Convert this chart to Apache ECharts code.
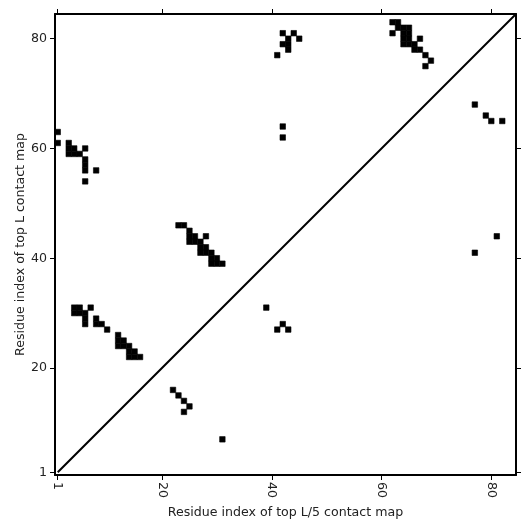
<!DOCTYPE html>
<html><head><meta charset="utf-8">
<script src="https://cdn.jsdelivr.net/npm/echarts@6/dist/echarts.min.js"></script>
<style>html,body{margin:0;padding:0;background:#fff}#c{width:531px;height:531px}</style>
</head><body><div id="c"></div>
<script>
// Tick labels / axis range
const tickValues = [1, 20, 40, 60, 80];
const axisMin = 0.5;
const axisMax = 84.5;
const xAxisTitle = 'Residue index of top L/5 contact map';
const yAxisTitle = 'Residue index of top L contact map';

// Contact cells (residue i, residue j)
const cellX = [
  1, 1, 3, 3, 4, 6, 3, 4, 5, 6, 6, 6, 8, 6,
  4, 5, 7, 4, 5, 6, 6, 6, 8, 8, 9, 10, 12, 12, 13, 12, 13, 14, 14, 15, 14, 15, 16,
  23, 24, 25, 25, 26, 28, 25, 26, 27, 27, 28, 27, 28, 29, 29, 30, 29, 30, 31,
  22, 23, 24, 25, 24, 31,
  42, 44, 43, 45, 42, 43, 43, 41, 42, 42,
  39, 42, 41, 43,
  62, 63, 63, 64, 65, 62, 64, 65, 64, 65, 67, 64, 65, 66, 66, 67, 68, 69, 68,
  77, 79, 80, 82, 81, 77
];
const cellY = [
  63, 61, 61, 60, 60, 60, 59, 59, 59, 58, 57, 56, 56, 54,
  31, 31, 31, 30, 30, 30, 29, 28, 29, 28, 28, 27, 26, 25, 25, 24, 24, 24, 23, 23, 22, 22, 22,
  46, 46, 45, 44, 44, 44, 43, 43, 43, 42, 42, 41, 41, 41, 40, 40, 39, 39, 39,
  16, 15, 14, 13, 12, 7,
  81, 81, 80, 80, 79, 79, 78, 77, 64, 62,
  31, 28, 27, 27,
  83, 83, 82, 82, 82, 81, 81, 81, 80, 80, 80, 79, 79, 79, 78, 78, 77, 76, 75,
  68, 66, 65, 65, 44, 41
];
// Diagonal reference line
const diagonalX = [1, 84.5];
const diagonalY = [1, 84.5];

const cells = cellX.map((x, i) => [x, cellY[i]]);
const diagonal = diagonalX.map((x, i) => [x, diagonalY[i]]);

const font = 'DejaVu Sans';
const fontSize = 12.6;
const lineStyle = { color: '#000', width: 2 };
const tickStyle = { show: true, inside: false, length: 5, lineStyle: { color: '#000', width: 1 }, customValues: tickValues };

const chart = echarts.init(document.getElementById('c'), null, { renderer: 'canvas' });
chart.setOption({
  animation: false,
  backgroundColor: '#fff',
  grid: { left: 55, top: 14, width: 461, height: 461, show: false },
  xAxis: [
    {
      type: 'value', min: axisMin, max: axisMax, position: 'bottom',
      axisLine: { show: true, onZero: false, lineStyle },
      axisTick: tickStyle,
      axisLabel: { show: true, customValues: tickValues, rotate: -90, margin: 7, color: '#222', fontFamily: font, fontSize: fontSize },
      splitLine: { show: false },
      name: xAxisTitle, nameLocation: 'middle', nameGap: 28,
      nameTextStyle: { color: '#222', fontFamily: font, fontSize: fontSize }
    },
    {
      type: 'value', min: axisMin, max: axisMax, position: 'top',
      axisLine: { show: true, onZero: false, lineStyle },
      axisTick: tickStyle,
      axisLabel: { show: false },
      splitLine: { show: false }
    }
  ],
  yAxis: [
    {
      type: 'value', min: axisMin, max: axisMax, position: 'left',
      axisLine: { show: true, onZero: false, lineStyle },
      axisTick: tickStyle,
      axisLabel: { show: true, customValues: tickValues, margin: 8, color: '#222', fontFamily: font, fontSize: fontSize },
      splitLine: { show: false },
      name: yAxisTitle, nameLocation: 'middle', nameGap: 28, nameMoveOverlap: false,
      nameTextStyle: { color: '#222', fontFamily: font, fontSize: fontSize }
    },
    {
      type: 'value', min: axisMin, max: axisMax, position: 'right',
      axisLine: { show: true, onZero: false, lineStyle },
      axisTick: tickStyle,
      axisLabel: { show: false },
      splitLine: { show: false }
    }
  ],
  series: [
    {
      type: 'custom',
      xAxisIndex: 0, yAxisIndex: 0,
      data: cells,
      encode: { x: 0, y: 1 },
      renderItem: function (params, api) {
        const x = api.value(0), y = api.value(1);
        const p0 = api.coord([x - 0.5, y + 0.5]);
        const p1 = api.coord([x + 0.5, y - 0.5]);
        return {
          type: 'rect',
          shape: { x: p0[0], y: p0[1], width: p1[0] - p0[0], height: p1[1] - p0[1] },
          style: { fill: '#000', stroke: '#000', lineWidth: 0.6 }
        };
      },
      silent: true
    },
    {
      type: 'line',
      xAxisIndex: 0, yAxisIndex: 0,
      data: diagonal,
      symbol: 'none',
      lineStyle: { color: '#000', width: 2 },
      silent: true,
      z: 3
    }
  ]
});
</script>
</body></html>
